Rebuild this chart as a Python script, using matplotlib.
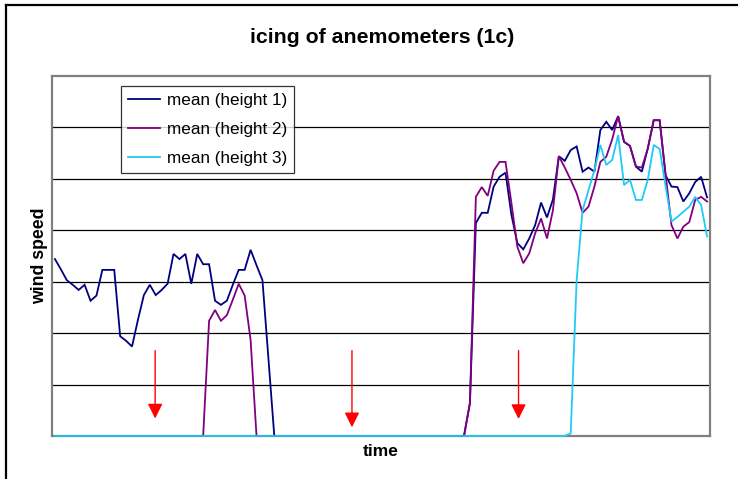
import matplotlib.pyplot as plt
import numpy as np
from matplotlib.lines import Line2D

plt.rcParams['font.family'] = ['Liberation Sans', 'DejaVu Sans']

# mean wind speed per time step (111 steps)
height1 = ([3.44, 3.24, 3.03, 2.94, 2.84, 2.94, 2.63, 2.73, 3.23, 3.23,
            3.23, 1.94, 1.85, 1.74, 2.26, 2.74, 2.94, 2.74, 2.84, 2.96,
            3.54, 3.44, 3.54, 2.96, 3.54, 3.34, 3.34, 2.63, 2.55, 2.63,
            2.94, 3.23, 3.23, 3.62, 3.32, 3.03, 1.52, 0.0]
           + [0.0] * 32
           + [0.64, 4.14, 4.34, 4.34, 4.85, 5.04, 5.12, 4.30, 3.75, 3.63,
              3.84, 4.10, 4.54, 4.25, 4.60, 5.44, 5.35, 5.56, 5.63, 5.14,
              5.22, 5.14, 5.95, 6.11, 5.95, 6.22, 5.72, 5.64, 5.24, 5.14,
              5.59, 6.14, 6.14, 5.07, 4.85, 4.84, 4.56, 4.72, 4.94, 5.04,
              4.64])
height2 = ([0.0] * 26
           + [2.24, 2.45, 2.24, 2.35, 2.65, 2.96, 2.73, 1.87, 0.0]
           + [0.0] * 35
           + [0.64, 4.65, 4.84, 4.67, 5.16, 5.33, 5.33, 4.53, 3.68, 3.36,
              3.55, 3.94, 4.23, 3.84, 4.39, 5.44, 5.22, 4.98, 4.72, 4.34,
              4.46, 4.85, 5.33, 5.43, 5.77, 6.22, 5.72, 5.64, 5.24, 5.22,
              5.59, 6.14, 6.14, 5.09, 4.10, 3.84, 4.07, 4.16, 4.59, 4.65,
              4.56])
height3 = ([0.0] * 87
           + [0.05, 3.03, 4.39, 4.78, 5.17, 5.66, 5.27, 5.37, 5.85, 4.88,
              4.98, 4.59, 4.59, 4.98, 5.66, 5.58, 4.86, 4.17, 4.26, 4.36,
              4.46, 4.65, 4.49, 3.88])

labels = ['mean (height 1)', 'mean (height 2)', 'mean (height 3)']
colors = ['#000080', '#800080', '#1ECBF5']

# red arrows marking the icing periods: (x, y_start, y_tip)
arrows_x = [17.4, 50.6, 78.7]
arrows_top = [1.66, 1.66, 1.66]
arrows_tip = [0.34, 0.17, 0.33]

fig = plt.figure(figsize=(7.47, 4.79), dpi=100)
ax = fig.add_axes([0.0696, 0.0898, 0.8809, 0.7515])

x = np.arange(len(height1)) + 0.5
for series, lab, col in zip([height1, height2, height3], labels, colors):
    ax.plot(x, series, color=col, lw=1.3, label=lab, solid_joinstyle='miter',
            zorder=3, clip_on=False)

for xa, yt, yb in zip(arrows_x, arrows_top, arrows_tip):
    ax.annotate('', xy=(xa, yb), xytext=(xa, yt),
                arrowprops=dict(arrowstyle='-|>,head_length=0.9,head_width=0.45',
                                color='red', lw=1.0, shrinkA=0, shrinkB=0,
                                mutation_scale=10))

ax.set_xlim(0, len(height1))
ax.set_ylim(0, 7)
ax.set_yticks(range(1, 7))
ax.yaxis.grid(True, color='black', lw=0.9)
ax.set_axisbelow(True)
ax.tick_params(left=False, bottom=False, labelleft=False, labelbottom=False)
for sp in ax.spines.values():
    sp.set_color('#808080')
    sp.set_linewidth(1.6)

ax.set_xlabel('time', fontsize=12.5, fontweight='bold', labelpad=6)
ax.set_ylabel('wind speed', fontsize=12.7, fontweight='bold', labelpad=3)
fig.text(0.512, 0.922, 'icing of anemometers (1c)', ha='center', va='center',
         fontsize=15.3, fontweight='bold')

leg = ax.legend(loc='upper left', bbox_to_anchor=(0.105, 0.972),
                borderaxespad=0, fontsize=12.3, frameon=True, fancybox=False,
                handlelength=1.9, handletextpad=0.4, labelspacing=0.83,
                borderpad=0.4)
leg.get_frame().set_edgecolor('black')
leg.get_frame().set_linewidth(0.9)

# outer chart frame (clipped at right and bottom like the source)
fig.add_artist(Line2D([6 / 747, 737 / 747], [1 - 5 / 479, 1 - 5 / 479],
                      color='black', lw=1.6))
fig.add_artist(Line2D([6 / 747, 6 / 747], [0, 1 - 5 / 479],
                      color='black', lw=1.6))

fig.savefig('out.png', dpi=100)
